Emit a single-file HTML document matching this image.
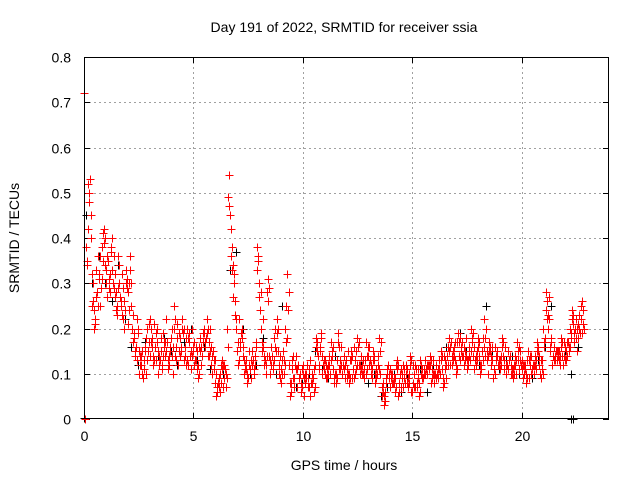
<!DOCTYPE html>
<html><head><meta charset="utf-8"><style>
html,body{margin:0;padding:0;background:#fff;}
svg{display:block;font-family:"Liberation Sans",sans-serif;}
</style></head><body>
<svg id="chart" width="640" height="480" viewBox="0 0 640 480" shape-rendering="crispEdges">
<rect width="640" height="480" fill="#fff"/>
<text x="344" y="32" font-size="14" text-anchor="middle" fill="#000">Day 191 of 2022, SRMTID for receiver ssia</text>
<text x="344" y="470" font-size="14" text-anchor="middle">GPS time / hours</text>
<text transform="translate(19,238) rotate(-90)" font-size="14" text-anchor="middle">SRMTID / TECUs</text>
<g id="grid"></g>
<g id="ticks"></g>
<g id="blackPts"></g>
<g id="redPts"></g>
<rect x="84.5" y="57.5" width="524" height="361" fill="none" stroke="#000" stroke-width="1"/>
</svg>
<script>
const xTicks=[0,5,10,15,20];
const yTicks=[0,0.1,0.2,0.3,0.4,0.5,0.6,0.7,0.8];
const yTickLabels=["0","0.1","0.2","0.3","0.4","0.5","0.6","0.7","0.8"];
const redStart=0.1, redStep=0.1;
const redA=[0.38,0.52,0.45,0.3,0.22, 0.28,0.32,0.38,0.42,0.3, 0.35,0.28,0.4,0.32,0.25, 0.3,0.26,0.22,0.33,0.28, 0.36,0.2,0.18,0.22,0.15, 0.12,0.09,0.16,0.2,0.14, 0.18,0.21,0.13,0.1,0.15, 0.19,0.14,0.17,0.12,0.2, 0.25,0.16,0.12,0.18,0.22, 0.14,0.2,0.17,0.11,0.15, 0.13,0.09,0.18,0.14,0.2, 0.22,0.17,0.12,0.15,0.08, 0.06,0.1,0.13,0.09,0.07, 0.49,0.42,0.34,0.26,0.15, 0.22,0.18,0.1,0.13,0.09, 0.11,0.15,0.12,0.38,0.3, 0.2,0.16,0.12,0.31,0.1, 0.14,0.18,0.22,0.12,0.08, 0.15,0.2,0.32,0.05,0.11, 0.09,0.14,0.12,0.06,0.1, 0.08,0.12,0.07,0.1,0.06, 0.18,0.14,0.16,0.1,0.13, 0.09,0.12,0.17,0.11,0.08, 0.19,0.13,0.1,0.14,0.11, 0.08,0.15,0.11,0.13,0.18, 0.1,0.12,0.09,0.17,0.14, 0.12,0.15,0.08,0.1,0.18, 0.05,0.03,0.09,0.12,0.07, 0.1,0.06,0.13,0.08,0.11, 0.07,0.12,0.09,0.14,0.06, 0.1,0.08,0.05,0.12,0.09, 0.13,0.1,0.14,0.11,0.08, 0.12,0.09,0.15,0.07,0.11, 0.14,0.18,0.12,0.16,0.1, 0.19,0.13,0.17,0.15,0.11, 0.16,0.2,0.14,0.12,0.18, 0.1,0.15,0.22,0.13,0.17, 0.12,0.09,0.16,0.14,0.11, 0.18,0.13,0.1,0.15,0.12, 0.09,0.14,0.17,0.11,0.13, 0.1,0.08,0.15,0.12,0.11, 0.14,0.17,0.12,0.09,0.2, 0.28,0.23,0.15,0.12,0.16, 0.13,0.15,0.18,0.12,0.16, 0.14,0.2,0.24,0.17,0.22, 0.18,0.25,0.21];
const redBStart=0.15;
const redB=[0.35,0.48,0.25,0.2,0.33, 0.36,0.25,0.41,0.34,0.27, 0.31,0.38,0.29,0.24,0.36, 0.27,0.32,0.2,0.29,0.24, 0.3,0.17,0.14,0.19,0.12, 0.15,0.13,0.1,0.17,0.2, 0.12,0.16,0.2,0.14,0.11, 0.16,0.22,0.13,0.15,0.1, 0.14,0.21,0.19,0.15,0.13, 0.18,0.12,0.14,0.2,0.17, 0.11,0.16,0.12,0.19,0.17, 0.14,0.2,0.1,0.13,0.05, 0.09,0.12,0.07,0.11,0.2, 0.54,0.33,0.3,0.2,0.12, 0.17,0.14,0.12,0.08,0.15, 0.13,0.1,0.17,0.35,0.24, 0.15,0.12,0.28,0.14,0.16, 0.11,0.2,0.15,0.09,0.13, 0.1,0.25,0.12,0.08,0.14, 0.12,0.07,0.09,0.11,0.05, 0.1,0.07,0.13,0.09,0.12, 0.15,0.11,0.19,0.13,0.09, 0.12,0.1,0.14,0.08,0.13, 0.11,0.16,0.12,0.09,0.15, 0.13,0.09,0.16,0.11,0.12, 0.14,0.1,0.13,0.11,0.16, 0.09,0.13,0.11,0.14,0.1, 0.08,0.06,0.11,0.09,0.1, 0.08,0.12,0.05,0.1,0.09, 0.11,0.08,0.1,0.06,0.12, 0.07,0.11,0.13,0.09,0.1, 0.11,0.12,0.08,0.13,0.1, 0.1,0.13,0.11,0.14,0.09, 0.16,0.12,0.15,0.13,0.17, 0.14,0.16,0.12,0.18,0.13, 0.13,0.17,0.11,0.15,0.14, 0.12,0.18,0.14,0.1,0.15, 0.16,0.11,0.13,0.12,0.14, 0.14,0.16,0.12,0.13,0.1, 0.12,0.1,0.13,0.15,0.09, 0.12,0.13,0.09,0.14,0.1, 0.11,0.15,0.1,0.13,0.16, 0.22,0.27,0.18,0.14,0.13, 0.15,0.12,0.14,0.17,0.13, 0.16,0.18,0.21,0.2,0.15, 0.23,0.19];
const redCStart=0.12;
const redC=[0.34,0.5,0.4,0.26,0.21, 0.25,0.36,0.31,0.39,0.33, 0.29,0.37,0.3,0.27,0.23, 0.34,0.23,0.26,0.3,0.21, 0.33,0.23,0.15,0.13,0.1, 0.14,0.11,0.18,0.15,0.22, 0.16,0.13,0.17,0.12,0.18, 0.14,0.17,0.11,0.16,0.14, 0.2,0.13,0.15,0.16,0.19, 0.16,0.13,0.19,0.14,0.12, 0.16,0.12,0.15,0.17,0.16, 0.19,0.14,0.16,0.11,0.1, 0.08,0.06,0.11,0.12,0.09, 0.47,0.36,0.27,0.23,0.17, 0.16,0.2,0.13,0.11,0.12, 0.09,0.13,0.14,0.33,0.27, 0.17,0.14,0.1,0.26,0.13, 0.12,0.16,0.19,0.1,0.11, 0.13,0.17,0.24,0.08,0.13, 0.07,0.11,0.09,0.08,0.12, 0.1,0.09,0.05,0.08,0.11, 0.16,0.12,0.18,0.12,0.1, 0.11,0.14,0.15,0.09,0.1, 0.17,0.11,0.12,0.12,0.09, 0.1,0.13,0.09,0.15,0.16, 0.12,0.1,0.11,0.14,0.12, 0.1,0.13,0.1,0.12,0.15, 0.07,0.05,0.08,0.1,0.09, 0.08,0.09,0.11,0.06,0.1, 0.09,0.1,0.07,0.12,0.08, 0.12,0.07,0.08,0.1,0.11, 0.11,0.12,0.12,0.09,0.1, 0.1,0.11,0.13,0.09,0.13, 0.12,0.16,0.14,0.14,0.12, 0.17,0.15,0.14,0.13,0.13, 0.14,0.18,0.16,0.14,0.16, 0.12,0.13,0.18,0.15,0.15, 0.14,0.11,0.14,0.12,0.13, 0.16,0.11,0.12,0.13,0.1, 0.11,0.12,0.15,0.13,0.11, 0.12,0.1,0.13,0.1,0.12, 0.12,0.15,0.14,0.11,0.17, 0.24,0.2,0.16,0.14,0.14, 0.15,0.13,0.16,0.14,0.15, 0.17,0.16,0.22,0.19,0.2, 0.2,0.22,0.24];
const redDStart=0.17;
const redD=[0.42,0.53,0.32,0.24,0.27, 0.31,0.29,0.35,0.4,0.36, 0.32,0.33,0.36,0.28,0.29, 0.25,0.29,0.24,0.31,0.3, 0.25,0.19,0.16,0.2,0.14, 0.1,0.15,0.13,0.21,0.17, 0.14,0.19,0.15,0.13,0.12, 0.17,0.15,0.14,0.18,0.16, 0.22,0.18,0.14,0.2,0.2, 0.12,0.18,0.15,0.16,0.13, 0.15,0.1,0.16,0.19,0.18, 0.2,0.15,0.14,0.13,0.07, 0.07,0.08,0.12,0.1,0.16, 0.45,0.38,0.32,0.22,0.13, 0.19,0.16,0.11,0.1,0.11, 0.12,0.11,0.16,0.36,0.28, 0.22,0.13,0.14,0.29,0.12, 0.13,0.15,0.2,0.14,0.1, 0.12,0.18,0.28,0.06,0.09, 0.11,0.12,0.1,0.07,0.09, 0.09,0.11,0.08,0.09,0.07, 0.17,0.15,0.14,0.11,0.12, 0.1,0.13,0.16,0.1,0.09, 0.16,0.12,0.11,0.13,0.1, 0.09,0.14,0.1,0.12,0.17, 0.11,0.13,0.1,0.16,0.13, 0.11,0.14,0.09,0.11,0.17, 0.06,0.04,0.1,0.11,0.08, 0.09,0.07,0.12,0.07,0.12, 0.08,0.11,0.08,0.13,0.07, 0.11,0.09,0.06,0.11,0.1, 0.12,0.11,0.13,0.1,0.09, 0.11,0.1,0.14,0.08,0.12, 0.15,0.17,0.13,0.17,0.11, 0.18,0.14,0.16,0.14,0.12, 0.15,0.19,0.13,0.13,0.17, 0.11,0.16,0.2,0.14,0.16, 0.13,0.1,0.15,0.13,0.12, 0.17,0.12,0.11,0.14,0.11, 0.1,0.13,0.16,0.12,0.12, 0.11,0.09,0.14,0.11,0.12, 0.13,0.16,0.13,0.1,0.18, 0.26,0.22,0.17,0.13,0.15, 0.14,0.14,0.17,0.13,0.17, 0.15,0.19,0.23,0.18,0.21, 0.19,0.26,0.2];
const blackStart=0.07, blackStep=0.3;
const black=[0.45,0.3,0.36,0.3,0.26,0.34,0.22,0.16,0.12,0.17,0.2,0.14,0.18,0.15,0.12,0.17,0.2,0.13,0.16,0.11,0.07,0.1,0.33,0.37,0.2,0.1,0.12,0.18,0.14,0.1,0.25,0.12,0.07,0.08,0.1,0.15,0.11,0.09,0.14,0.12,0.1,0.13,0.12,0.08,0.1,0.05,0.07,0.1,0.06,0.09,0.07,0.11,0.06,0.12,0.1,0.16,0.13,0.19,0.15,0.14,0.12,0.25,0.15,0.11,0.13,0.14,0.1,0.12,0.09,0.13,0.16,0.25,0.14,0.15,0.1,0.16];
const specialTimes=[0.0,0.05,0.0,22.28,22.34];
const specialVals=[0.72,0,0.003,0,0];
const specialColors=["red","red","black","black","black"];

const X0=84,X1=609,Y0=419,Y1=57,XMAX=24,YMAX=0.8;
const xs=t=>X0+(X1-X0)*t/XMAX;
const ys=v=>Y0-(Y0-Y1)*v/YMAX;
const NS="http://www.w3.org/2000/svg";
function mk(tag,attrs,parent){const e=document.createElementNS(NS,tag);for(const k in attrs)e.setAttribute(k,attrs[k]);parent.appendChild(e);return e;}
const grid=document.getElementById('grid'),ticks=document.getElementById('ticks');
yTicks.forEach((v,i)=>{const y=Math.round(ys(v))+0.5;
 if(v>0&&v<YMAX){const g=mk('line',{x1:X0,x2:X1,y1:y,y2:y,stroke:'#a0a0a0','stroke-dasharray':'2,3'},grid);
 
 }
 const tk=mk('line',{x1:X0,x2:X0+6,y1:y,y2:y,stroke:'#000'},ticks);
 
 
 const tr=mk('line',{x1:X1-6,x2:X1,y1:y,y2:y,stroke:'#000'},ticks);
 
 
 const t=mk('text',{x:X0-13,y:y+5,'font-size':'14','text-anchor':'end'},ticks);t.textContent=yTickLabels[i];
 
 });
xTicks.forEach(v=>{const x=Math.round(xs(v))+0.5;
 if(v>0){const g=mk('line',{x1:x,x2:x,y1:Y0,y2:Y1,stroke:'#a0a0a0','stroke-dasharray':'2,3'},grid);
 
 }
 const tk=mk('line',{x1:x,x2:x,y1:Y0,y2:Y0-6,stroke:'#000'},ticks);
 
 
 const tt=mk('line',{x1:x,x2:x,y1:Y1,y2:Y1+6,stroke:'#000'},ticks);
 
 
 const t=mk('text',{x:x,y:Y0+22,'font-size':'14','text-anchor':'middle'},ticks);t.textContent=String(v);
 
 });
function plus(parent,t,v,color){const x=Math.round(xs(t))+0.5,y=Math.round(ys(v))+0.5;
 const p=mk('path',{d:`M${x-4},${y}H${x+4}M${x},${y-4}V${y+4}`,stroke:color,'stroke-width':'1',fill:'none'},parent);
 
 }
const bg=document.getElementById('blackPts'),rg=document.getElementById('redPts');
black.forEach((v,i)=>plus(bg,blackStart+i*blackStep,v,'#000'));
redB.forEach((v,i)=>plus(rg,redBStart+i*redStep,v,'#f00'));
redC.forEach((v,i)=>plus(rg,redCStart+i*redStep,v,'#f00'));
redD.forEach((v,i)=>plus(rg,redDStart+i*redStep,v,'#f00'));
redA.forEach((v,i)=>plus(rg,redStart+i*redStep,v,'#f00'));
specialVals.forEach((v,i)=>plus(specialColors[i]==='red'?rg:bg,specialTimes[i],v,specialColors[i]==='red'?'#f00':'#000'));
</script>
</body></html>
